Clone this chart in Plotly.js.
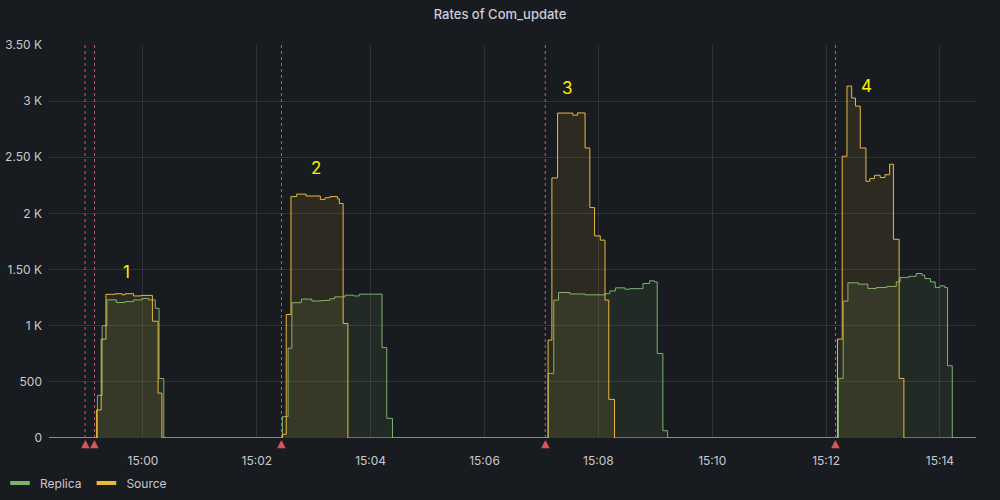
<!DOCTYPE html>
<html>
<head>
<meta charset="utf-8">
<script src="https://cdn.plot.ly/plotly-3.0.1.min.js"></script>
<style>
  html, body { margin: 0; padding: 0; background: #181b1f; }
  #chart { width: 1000px; height: 500px; }
</style>
</head>
<body>
<div id="chart"></div>
<script>
// ---- data (times on 15:xx clock, step series) ----
const DAY = '2021-06-01 ';
const rangeStart = '14:58:21';
const rangeEnd = '15:14:38';

const replicaTimes = [
  '14:58:21',
  '14:59:12','14:59:17','14:59:22','14:59:32','14:59:41','14:59:50','14:59:59','15:00:06','15:00:13','15:00:17','15:00:22',
  '15:02:27','15:02:33','15:02:37','15:02:47','15:02:58','15:03:08','15:03:17','15:03:22','15:03:33','15:03:42','15:03:48','15:04:12','15:04:17','15:04:23',
  '15:07:07','15:07:13','15:07:18','15:07:30','15:07:46','15:08:07','15:08:12','15:08:18','15:08:28','15:08:33','15:08:47','15:08:54','15:08:59','15:09:02','15:09:08','15:09:13',
  '15:12:13','15:12:18','15:12:23','15:12:34','15:12:44','15:12:53','15:13:04','15:13:14','15:13:18','15:13:27','15:13:35','15:13:41','15:13:44','15:13:50','15:13:55','15:14:00','15:14:05','15:14:08','15:14:13',
  '15:14:38'
];
const replicaValues = [
  0,
  380,1000,1230,1207,1215,1230,1243,1230,1155,530,0,
  190,800,1205,1237,1220,1225,1240,1257,1272,1265,1281,805,175,0,
  575,1228,1296,1283,1275,1285,1310,1337,1325,1330,1376,1400,1390,753,65,0,
  531,1219,1382,1370,1332,1340,1350,1391,1430,1440,1465,1450,1420,1390,1341,1355,1340,643,0,
  0
];

const sourceTimes = [
  '14:58:21',
  '14:59:11','14:59:16','14:59:21','14:59:31','14:59:38','14:59:41','14:59:50','14:59:58','15:00:10','15:00:16','15:00:20',
  '15:02:27','15:02:31','15:02:36','15:02:42','15:02:52','15:03:07','15:03:12','15:03:17','15:03:25','15:03:27','15:03:31','15:03:36',
  '15:07:07','15:07:11','15:07:17','15:07:33','15:07:38','15:07:46','15:07:51','15:07:56','15:08:02','15:08:07','15:08:11','15:08:17',
  '15:12:12','15:12:17','15:12:22','15:12:27','15:12:31','15:12:36','15:12:42','15:12:46','15:12:51','15:12:57','15:13:02','15:13:07','15:13:11','15:13:17','15:13:22',
  '15:14:38'
];
const sourceValues = [
  0,
  250,880,1280,1285,1275,1285,1265,1270,1040,400,0,
  33,1100,2150,2172,2155,2125,2140,2150,2130,2088,1020,0,
  872,2316,2894,2875,2895,2583,2052,1800,1762,1228,344,0,
  881,2509,3134,3028,2956,2583,2286,2310,2340,2320,2345,2438,1770,531,0,
  0
];

// annotation events (Grafana annotations)
const eventTimes = ['14:58:59','14:59:09','15:02:26','15:07:04','15:12:10'];

// numbered labels
const labelText = ['1','2','3','4'];
const labelTimes = ['14:59:43','15:03:02','15:07:27','15:12:43'];
const labelValues = [1477,2402,3114,3132];

// axis ticks
const yTickVals = [0,500,1000,1500,2000,2500,3000,3500];
const yTickText = ['0','500','1 K','1.50 K','2 K','2.50 K','3 K','3.50 K'];

// ---- build ----
const ts = arr => arr.map(t => DAY + t);
const GREEN = '#7EB26D';
const YELLOW = '#EAB839';
const EVENT = '#d9545c';
const TXT = '#c8c9d0';
const GRID = 'rgba(204,204,220,0.13)';

const traces = [
  {
    x: ts(replicaTimes), y: replicaValues, type: 'scatter', mode: 'lines',
    line: {color: GREEN, width: 1, shape: 'hv'},
    fill: 'tozeroy', fillcolor: 'rgba(126,178,109,0.10)',
    cliponaxis: false, showlegend: false, hoverinfo: 'skip'
  },
  {
    x: ts(sourceTimes), y: sourceValues, type: 'scatter', mode: 'lines',
    line: {color: YELLOW, width: 1, shape: 'hv'},
    fill: 'tozeroy', fillcolor: 'rgba(234,184,57,0.10)',
    cliponaxis: false, showlegend: false, hoverinfo: 'skip'
  },
  {
    x: [null], y: [null], type: 'scatter', mode: 'markers', name: 'Replica',
    marker: {symbol: 'line-ew-open', size: 14, color: GREEN, line: {color: GREEN, width: 4}}
  },
  {
    x: [null], y: [null], type: 'scatter', mode: 'markers', name: 'Source',
    marker: {symbol: 'line-ew-open', size: 14, color: YELLOW, line: {color: YELLOW, width: 4}}
  }
];

const shapes = eventTimes.map(t => ({
  type: 'line', xref: 'x', yref: 'paper', x0: DAY + t, x1: DAY + t, y0: 0, y1: 1,
  line: {color: EVENT, width: 1, dash: '3px,3px'}, layer: 'above'
}));

const annotations = labelText.map((s, i) => ({
  x: DAY + labelTimes[i], y: labelValues[i], xref: 'x', yref: 'y',
  text: s, showarrow: false,
  font: {family: 'Inter, Roboto, sans-serif', size: 17, color: '#ffee00'}
})).concat(eventTimes.map(t => ({
  x: DAY + t, y: 0, xref: 'x', yref: 'y',
  text: '▲', showarrow: false, yanchor: 'middle', yshift: -5,
  font: {family: 'DejaVu Sans, sans-serif', size: 11, color: EVENT}
})));

const layout = {
  width: 1000, height: 500,
  paper_bgcolor: '#181b1f', plot_bgcolor: '#181b1f',
  margin: {l: 49, r: 24, t: 45, b: 62},
  font: {family: 'Inter, Roboto, sans-serif', size: 12, color: TXT},
  title: {
    text: 'Rates of Com_update',
    font: {family: 'Inter, Roboto, sans-serif', size: 13, color: '#ccccdc', weight: 500},
    x: 0.5, xanchor: 'center', y: 0.972, yanchor: 'middle', yref: 'container'
  },
  xaxis: {
    type: 'date',
    range: [DAY + rangeStart, DAY + rangeEnd],
    tick0: DAY + '15:00:00', dtick: 120000, tickformat: '%H:%M',
    showgrid: true, gridcolor: GRID, gridwidth: 1,
    zeroline: false, showline: false, ticks: '',
    tickfont: {size: 12, color: TXT},
    ticklabelstandoff: 14,
    fixedrange: true
  },
  yaxis: {
    range: [0, 3500],
    tickvals: yTickVals, ticktext: yTickText,
    showgrid: true, gridcolor: GRID, gridwidth: 1,
    zeroline: false, showline: false, ticks: '',
    tickfont: {size: 12, color: TXT},
    ticklabelstandoff: 6,
    fixedrange: true
  },
  showlegend: true,
  legend: {
    orientation: 'h', xref: 'container', yref: 'container',
    x: 0.0, y: 0.005, xanchor: 'left', yanchor: 'bottom',
    font: {size: 12, color: TXT}, bgcolor: 'rgba(0,0,0,0)',
    itemwidth: 30, traceorder: 'normal'
  },
  shapes: shapes,
  annotations: annotations,
  hovermode: false
};

Plotly.newPlot('chart', traces, layout, {displayModeBar: false, staticPlot: true});
</script>
</body>
</html>
